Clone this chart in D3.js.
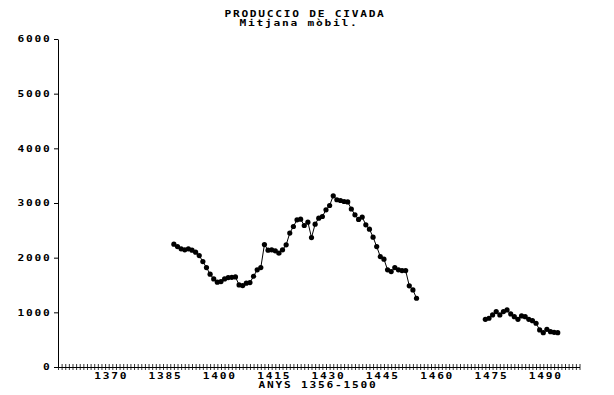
<!DOCTYPE html>
<html><head><meta charset="utf-8">
<script src="https://cdn.jsdelivr.net/npm/d3@7"></script>
<style>body{margin:0;background:#fff}svg{display:block}</style>
</head><body><svg id="c" width="614" height="395"></svg>
<script>
const title = "PRODUCCIO DE CIVADA";
const subtitle = "Mitjana mòbil.";
const xTitle = "ANYS 1356-1500";
const yTicks = [0, 1000, 2000, 3000, 4000, 5000, 6000];
const xLabelYears = [1370, 1385, 1400, 1415, 1430, 1445, 1460, 1475, 1490];
const xDomain = [1356, 1500];

const years1 = [1388,1389,1390,1391,1392,1393,1394,1395,1396,1397,
  1398,1399,1400,1401,1402,1403,1404,1405,1406,1407,
  1408,1409,1410,1411,1412,1413,1414,1415,1416,1417,
  1418,1419,1420,1421,1422,1423,1424,1425,1426,1427,
  1428,1429,1430,1431,1432,1433,1434,1435,1436,1437,
  1438,1439,1440,1441,1442,1443,1444,1445,1446,1447,
  1448,1449,1450,1451,1452,1453,1454,1455];
const values1 = [2247,2203,2161,2143,2161,2137,2100,2038,1929,1819,
  1698,1612,1551,1562,1612,1636,1640,1648,1502,1490,
  1533,1545,1660,1777,1819,2240,2137,2143,2125,2082,
  2143,2234,2449,2570,2692,2705,2588,2650,2368,2613,
  2723,2753,2875,2954,3132,3059,3046,3027,3020,2890,
  2784,2700,2742,2601,2522,2375,2203,2020,1973,1777,
  1745,1819,1777,1764,1764,1484,1410,1258];

const years2 = [1474,1475,1476,1477,1478,1479,1480,1481,1482,1483,
  1484,1485,1486,1487,1488,1489,1490,1491,1492,1493,1494];
const values2 = [873,892,952,1013,952,1013,1044,971,921,873,
  934,921,873,848,800,678,628,690,647,635,628];

const svg = d3.select("#c");
const font = "'DejaVu Sans Mono', monospace";
const FS = 8, KX = 1.4, LS = 1.25;

function styleText(sel) {
  return sel.attr("font-family", font).attr("font-size", FS).attr("font-weight", "bold")
    .attr("letter-spacing", LS).attr("fill", "#000");
}

const x = d3.scaleLinear().domain(xDomain).range([58, 579.5]);
const y = d3.scaleLinear().domain([0, 6000]).range([367, 39]);

// Title
styleText(svg.append("text")).attr("transform", `translate(305,17) scale(${KX},1)`)
  .attr("text-anchor", "middle").text(title);
styleText(svg.append("text")).attr("transform", `translate(299,25.5) scale(${KX},1)`)
  .attr("text-anchor", "middle").text(subtitle);

// Y axis
const yAxis = svg.append("g").attr("transform", `translate(${x(xDomain[0])},0)`)
  .call(d3.axisLeft(y).tickValues(yTicks).tickSize(4).tickPadding(4).tickSizeOuter(0).tickFormat(d3.format("d")));
yAxis.select(".domain").attr("stroke", "#000").attr("stroke-width", 1);
yAxis.selectAll(".tick line").attr("stroke", "#000");
styleText(yAxis.selectAll(".tick text")).attr("x", -4.6).attr("dy", "0.35em")
  .attr("transform", `scale(${KX},1)`);

// X axis: one tick per year, crossing the line
const allYears = d3.range(xDomain[0], xDomain[1] + 1);
const xAxis = svg.append("g").attr("transform", `translate(0,${y(0)})`)
  .call(d3.axisBottom(x).tickValues(allYears).tickSize(3).tickSizeOuter(0).tickFormat(""));
xAxis.select(".domain").attr("stroke", "#000");
xAxis.selectAll(".tick line").attr("y1", -3).attr("stroke", "#000").attr("stroke-width", 0.8);

// X labels
const xLab = svg.append("g").attr("transform", `translate(2,${y(0)})`)
  .call(d3.axisBottom(x).tickValues(xLabelYears).tickSize(0).tickPadding(6).tickFormat(d3.format("d")));
xLab.select(".domain").remove();
styleText(xLab.selectAll(".tick text")).attr("transform", `scale(${KX},1)`);

styleText(svg.append("text")).attr("transform", `translate(318,387.5) scale(${KX},1)`)
  .attr("text-anchor", "middle").text(xTitle);

// Series
const line = d3.line().x(d => x(d[0])).y(d => y(d[1]));
[[years1, values1], [years2, values2]].forEach(([yrs, vals]) => {
  const pts = yrs.map((yr, i) => [yr, vals[i]]);
  svg.append("path").datum(pts).attr("d", line)
    .attr("fill", "none").attr("stroke", "#000").attr("stroke-width", 1);
  svg.append("g").selectAll("circle").data(pts).join("circle")
    .attr("cx", d => x(d[0])).attr("cy", d => y(d[1])).attr("r", 2.6).attr("fill", "#000");
});
</script>
</body></html>
